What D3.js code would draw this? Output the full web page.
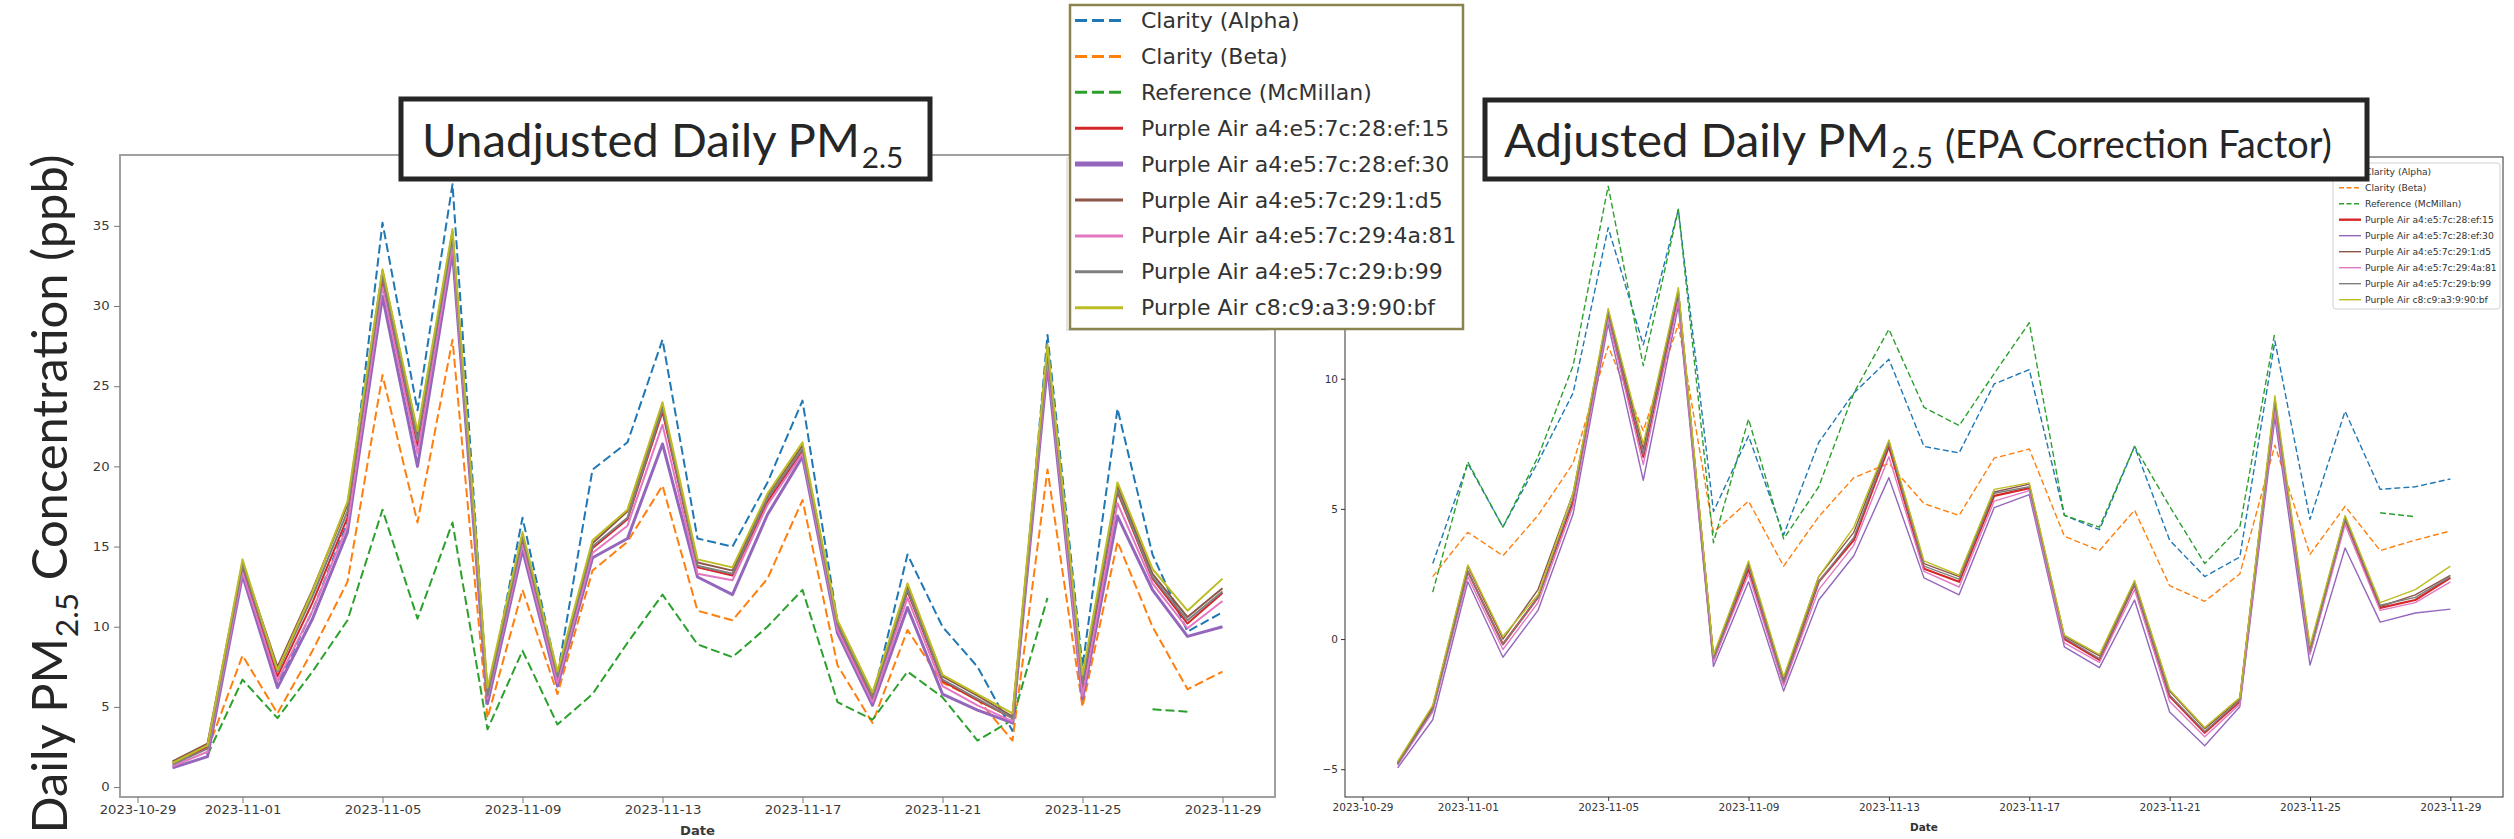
<!DOCTYPE html>
<html>
<head>
<meta charset="utf-8">
<script src="https://cdn.jsdelivr.net/npm/d3@7"></script>
<style>
  body { margin: 0; background: white; }
</style>
</head>
<body>
<main></main>
<script>
// daily values (null = no data that day)
let days = ["2023-10-30","2023-10-31","2023-11-01","2023-11-02","2023-11-03","2023-11-04","2023-11-05",
  "2023-11-06","2023-11-07","2023-11-08","2023-11-09","2023-11-10","2023-11-11","2023-11-12","2023-11-13",
  "2023-11-14","2023-11-15","2023-11-16","2023-11-17","2023-11-18","2023-11-19","2023-11-20","2023-11-21",
  "2023-11-22","2023-11-23","2023-11-24","2023-11-25","2023-11-26","2023-11-27","2023-11-28","2023-11-29"]

let tickLabels = ["2023-10-29","2023-11-01","2023-11-05","2023-11-09","2023-11-13","2023-11-17","2023-11-21","2023-11-25","2023-11-29"]
let yTicksRaw = [0, 5, 10, 15, 20, 25, 30, 35]
let yTicksAdj = [-5, 0, 5, 10, 15]

let names = ["Clarity (Alpha)", "Clarity (Beta)", "Reference (McMillan)",
  "Purple Air a4:e5:7c:28:ef:15", "Purple Air a4:e5:7c:28:ef:30", "Purple Air a4:e5:7c:29:1:d5",
  "Purple Air a4:e5:7c:29:4a:81", "Purple Air a4:e5:7c:29:b:99", "Purple Air c8:c9:a3:9:90:bf"]
let colors = ["#1f77b4", "#ff7f0e", "#2ca02c", "#d62728", "#9467bd", "#8c564b", "#e377c2", "#7f7f7f", "#bcbd22"]

// unadjusted
let rawAlpha = [null, 2.0, 13.5, 6.4, 11.0, 16.5, 35.2, 23.5, 37.6, 5.5, 16.8, 7.0, 19.8, 21.5, 27.9, 15.5, 15.0, 19.0, 24.1, 10.3, 5.5, 14.5, 10.0, 7.5, 3.5, 28.2, 7.5, 23.6, 14.5, 9.7, 10.9]
let rawBeta = [null, 2.3, 8.2, 4.6, 8.5, 12.8, 25.7, 16.5, 27.9, 4.3, 12.3, 5.8, 13.5, 15.3, 18.8, 11.0, 10.4, 13.0, 17.9, 7.6, 4.0, 9.8, 6.5, 5.5, 2.9, 19.8, 5.0, 15.3, 10.0, 6.1, 7.2]
let rawRef = [null, 2.0, 6.7, 4.3, 7.2, 10.4, 17.3, 10.5, 16.5, 3.6, 8.5, 3.9, 5.8, 9.0, 12.0, 8.9, 8.1, 10.0, 12.3, 5.3, 4.2, 7.2, 5.6, 2.9, 4.2, 11.8, null, null, 4.85, 4.7, null]
let rawPA15 = [1.5, 2.5, 13.6, 6.9, 11.5, 16.8, 31.6, 21.3, 34.0, 5.7, 15.3, 6.8, 14.9, 16.7, 23.4, 13.7, 13.2, 17.8, 21.0, 10.0, 5.5, 12.2, 6.6, 5.4, 4.3, 27.0, 5.9, 18.4, 13.0, 10.2, 12.1]
let rawPA30 = [1.2, 1.9, 13.2, 6.2, 10.5, 15.9, 30.6, 20.0, 33.4, 5.2, 14.8, 6.3, 14.3, 15.5, 21.4, 13.1, 12.0, 17.0, 20.6, 9.6, 5.1, 11.2, 5.8, 4.8, 4.0, 26.3, 5.5, 16.9, 12.3, 9.4, 10.0]
let rawPAd5 = [1.6, 2.7, 14.0, 7.5, 12.3, 17.6, 32.2, 22.0, 34.6, 6.0, 15.7, 7.0, 15.2, 17.2, 23.8, 14.0, 13.5, 18.2, 21.3, 10.3, 5.8, 12.5, 6.9, 5.7, 4.4, 27.3, 6.2, 18.8, 13.3, 10.6, 12.4]
let rawPA81 = [1.3, 2.2, 13.4, 6.6, 11.0, 16.3, 31.2, 20.8, 33.8, 5.5, 15.1, 6.5, 14.6, 16.3, 22.6, 13.3, 12.9, 17.6, 20.8, 9.8, 5.3, 11.8, 6.3, 5.1, 4.1, 26.7, 5.7, 17.7, 12.7, 9.9, 11.6]
let rawPA99 = [1.4, 2.4, 13.8, 7.2, 11.9, 17.2, 31.8, 21.6, 34.3, 5.7, 15.5, 6.9, 15.0, 16.8, 23.6, 13.8, 13.3, 18.0, 21.1, 10.1, 5.6, 12.3, 6.7, 5.5, 4.3, 27.1, 6.5, 18.5, 13.1, 10.4, 12.2]
let rawPAbf = [1.5, 2.6, 14.2, 7.3, 12.2, 17.8, 32.3, 22.2, 34.8, 6.2, 15.9, 7.2, 15.4, 17.3, 24.0, 14.2, 13.7, 18.3, 21.5, 10.4, 5.9, 12.7, 7.0, 5.8, 4.6, 27.6, 7.0, 19.0, 13.6, 11.0, 13.0]

// adjusted (EPA correction)
let adjAlpha = [null, 2.9, 6.75, 4.3, 6.8, 9.45, 15.8, 11.3, 16.5, 4.9, 7.8, 4.0, 7.55, 9.45, 10.75, 7.4, 7.15, 9.8, 10.35, 4.75, 4.2, 7.4, 3.8, 2.4, 3.15, 11.45, 4.6, 8.75, 5.75, 5.85, 6.15]
let adjBeta = [null, 2.4, 4.1, 3.2, 4.75, 6.75, 11.25, 8.0, 12.1, 4.1, 5.3, 2.8, 4.7, 6.2, 6.75, 5.2, 4.75, 6.95, 7.3, 3.95, 3.4, 4.95, 2.05, 1.45, 2.5, 7.45, 3.25, 5.1, 3.4, 3.8, 4.15]
let adjRef = [null, 1.8, 6.8, 4.3, 7.0, 10.5, 17.4, 10.5, 16.5, 3.7, 8.45, 3.85, 5.85, 9.45, 11.9, 8.9, 8.2, 10.2, 12.15, 4.75, 4.3, 7.4, 5.1, 2.9, 4.3, 11.8, null, null, 4.85, 4.7, null]
let adjPA15 = [-4.8, -2.7, 2.6, -0.2, 1.6, 5.3, 12.4, 7.0, 13.2, -0.8, 2.7, -1.7, 2.2, 3.8, 7.4, 2.7, 2.2, 5.5, 5.8, 0.0, -0.8, 2.1, -2.2, -3.6, -2.4, 9.0, -0.5, 4.6, 1.2, 1.5, 2.35]
let adjPA30 = [-4.95, -3.1, 2.2, -0.7, 1.1, 4.8, 12.1, 6.1, 12.8, -1.05, 2.2, -2.0, 1.5, 3.2, 6.2, 2.35, 1.7, 5.05, 5.55, -0.3, -1.1, 1.5, -2.8, -4.1, -2.6, 8.5, -1.0, 3.5, 0.65, 1.0, 1.15]
let adjPAd5 = [-4.75, -2.6, 2.8, 0.0, 1.9, 5.6, 12.6, 7.3, 13.4, -0.65, 2.9, -1.55, 2.4, 4.1, 7.6, 2.9, 2.4, 5.65, 5.95, 0.1, -0.65, 2.2, -2.0, -3.45, -2.3, 9.2, -0.35, 4.7, 1.25, 1.7, 2.45]
let adjPA81 = [-4.85, -2.8, 2.4, -0.4, 1.4, 5.1, 12.3, 6.7, 13.0, -0.85, 2.5, -1.8, 1.9, 3.6, 7.0, 2.6, 2.0, 5.3, 5.7, -0.15, -0.9, 1.9, -2.4, -3.75, -2.5, 8.8, -0.6, 4.4, 1.1, 1.4, 2.2]
let adjPA99 = [-4.8, -2.7, 2.6, -0.2, 1.6, 5.4, 12.5, 7.1, 13.3, -0.75, 2.8, -1.65, 2.2, 3.9, 7.5, 2.8, 2.3, 5.6, 5.85, 0.05, -0.75, 2.1, -2.15, -3.55, -2.35, 9.1, -0.45, 4.6, 1.3, 1.6, 2.4]
let adjPAbf = [-4.7, -2.55, 2.85, 0.1, 1.7, 5.6, 12.7, 7.5, 13.5, -0.6, 3.0, -1.45, 2.4, 4.3, 7.65, 3.0, 2.45, 5.75, 6.0, 0.15, -0.6, 2.25, -1.95, -3.4, -2.25, 9.35, -0.25, 4.75, 1.4, 1.9, 2.8]

let rawSeries = [rawAlpha, rawBeta, rawRef, rawPA15, rawPA30, rawPAd5, rawPA81, rawPA99, rawPAbf]
let adjSeries = [adjAlpha, adjBeta, adjRef, adjPA15, adjPA30, adjPAd5, adjPA81, adjPA99, adjPAbf]

//set dimensions
const svgWidth = 2514
const svgHeight = 839

let parseDay = d3.timeParse("%Y-%m-%d")
let dates = days.map(parseDay)
let tickDates = tickLabels.map(parseDay)
const dayMs = 864e5

let svg = d3.select("main")
  .append("svg")
  .attr("width", svgWidth)
  .attr("height", svgHeight)
  .style("display", "block")
  .style("background-color", "white")

function drawPanel(p) {
  let xScale = d3.scaleTime()
    .domain([new Date(+dates[0] - 1.5 * dayMs), new Date(+dates[dates.length - 1] + 1.5 * dayMs)])
    .range([p.left, p.right])

  // 5% padding like matplotlib
  let all = p.series.flat().filter(v => v != null)
  let lo = d3.min(all), hi = d3.max(all), pad = (hi - lo) * 0.05
  let yScale = d3.scaleLinear()
    .domain([lo - pad, hi + pad])
    .range([p.bottom, p.top])

  let g = svg.append("g")

  // lines (drawn in legend order so the last ones sit on top)
  p.series.forEach(function (values, i) {
    let line = d3.line()
      .defined(d => d.v != null)
      .x(d => xScale(d.date))
      .y(d => yScale(d.v))
    g.append("path")
      .datum(dates.map((d, j) => ({ date: d, v: values[j] })))
      .attr("d", line)
      .style("fill", "none")
      .style("stroke", colors[i])
      .style("stroke-width", i < 3 ? p.dashWidth : (i == p.thick ? p.thickWidth : p.lineWidth))
      .style("stroke-dasharray", i < 3 ? p.dash : null)
      .style("stroke-linejoin", "round")
  })

  // frame
  g.append("rect")
    .attr("x", p.left)
    .attr("y", p.top)
    .attr("width", p.right - p.left)
    .attr("height", p.bottom - p.top)
    .style("fill", "none")
    .style("stroke", p.spine)
    .style("stroke-width", p.spineWidth)

  let bottomAxis = d3.axisBottom(xScale)
    .tickValues(tickDates)
    .tickFormat(d3.timeFormat("%Y-%m-%d"))
    .tickSize(p.tickSize)
    .tickPadding(p.tickPad)
  let xAxis = g.append("g")
    .attr("transform", `translate(0, ${p.bottom})`)
    .call(bottomAxis)
  xAxis.select(".domain").remove()
  xAxis.selectAll("line").style("stroke", p.tickColor)
  xAxis.selectAll("text")
    .style("fill", p.textColor)
    .style("font-family", "DejaVu Sans")
    .style("font-size", p.fontSize + "px")
    .attr("transform", `scale(${p.stretch},1)`)

  let leftAxis = d3.axisLeft(yScale)
    .tickValues(p.yTicks)
    .tickFormat(d3.format("d"))
    .tickSize(p.tickSize)
    .tickPadding(p.tickPad)
  let yAxis = g.append("g")
    .attr("transform", `translate(${p.left}, 0)`)
    .call(leftAxis)
  yAxis.select(".domain").remove()
  yAxis.selectAll("line").style("stroke", p.tickColor)
  yAxis.selectAll("text")
    .style("fill", p.textColor)
    .style("font-family", "DejaVu Sans")
    .style("font-size", p.fontSize + "px")
    .attr("transform", `scale(${p.stretch},1)`)

  g.append("text")
    .attr("transform", `translate(${(p.left + p.right) / 2}, ${p.dateY}) scale(${p.stretch},1)`)
    .attr("text-anchor", "middle")
    .style("font-family", "DejaVu Sans")
    .style("font-weight", "bold")
    .style("font-size", p.fontSize + "px")
    .style("fill", p.textColor)
    .text("Date")
}

drawPanel({
  left: 120, right: 1275, top: 155, bottom: 797,
  series: rawSeries, yTicks: yTicksRaw,
  dash: "9,4", dashWidth: 2, lineWidth: 2, thick: 4, thickWidth: 3,
  spine: "#a0a0a0", spineWidth: 2, tickSize: 6, tickPad: 3, tickColor: "#777",
  textColor: "#3a3a3a", fontSize: 11.5, stretch: 1.15, dateY: 835
})

// hidden legend frame of the left plot (mostly covered later)
svg.append("rect")
  .attr("x", 1067).attr("y", 158).attr("width", 200).attr("height", 172)
  .style("fill", "white").style("stroke", "#dddddd").style("stroke-width", 1.5)

drawPanel({
  left: 1345, right: 2503, top: 157, bottom: 797,
  series: adjSeries, yTicks: yTicksAdj,
  dash: "6,3", dashWidth: 1.4, lineWidth: 1.4, thick: 3, thickWidth: 2.2,
  spine: "#333", spineWidth: 1, tickSize: 4, tickPad: 3, tickColor: "#333",
  textColor: "#333", fontSize: 10.5, stretch: 1, dateY: 831
})

// small legend of the right plot
let smallLegend = svg.append("g")
smallLegend.append("rect")
  .attr("x", 2333).attr("y", 163).attr("width", 167).attr("height", 146).attr("rx", 3)
  .style("fill", "white").style("stroke", "#d0d0d0").style("stroke-width", 1)
smallLegend.selectAll("line")
  .data(names)
  .enter()
  .append("line")
  .attr("x1", 2339).attr("x2", 2361)
  .attr("y1", (d, i) => 171.7 + i * 16).attr("y2", (d, i) => 171.7 + i * 16)
  .style("stroke", (d, i) => colors[i])
  .style("stroke-width", (d, i) => i == 3 ? 2.4 : 1.4)
  .style("stroke-dasharray", (d, i) => i < 3 ? "5,2.5" : null)
smallLegend.selectAll("text")
  .data(names)
  .enter()
  .append("text")
  .attr("x", 2365)
  .attr("y", (d, i) => 171.7 + i * 16)
  .attr("dominant-baseline", "central")
  .style("font-family", "DejaVu Sans")
  .style("font-size", "9.2px")
  .style("fill", "#333")
  .text(d => d)

// title boxes: main words, subscript and optional note as separate texts, laid out side by side
let probe = svg.append("text").style("font-family", "Lato").style("font-size", "100px").text("Unadjusted Daily PM")
let titleSize = 100 * 438 / probe.node().getComputedTextLength()   // "Unadjusted Daily PM" is 438px wide in the picture
probe.remove()

function titleBox(x, y, w, h, textX, main, note) {
  let g = svg.append("g")
  g.append("rect")
    .attr("x", x).attr("y", y).attr("width", w).attr("height", h)
    .style("fill", "white").style("stroke", "#262626").style("stroke-width", 5)
  let t = g.append("text")
    .attr("x", textX).attr("y", 157)
    .style("font-family", "Lato").style("font-size", titleSize + "px").style("fill", "#262626")
    .text(main)
  let subX = textX + t.node().getComputedTextLength() + 2
  let s = g.append("text")
    .attr("x", subX).attr("y", 168)
    .style("font-family", "Lato").style("font-size", (titleSize * 0.63) + "px").style("fill", "#262626")
    .text("2.5")
  if (note) {
    g.append("text")
      .attr("x", subX + s.node().getComputedTextLength() + 12).attr("y", 158)
      .style("font-family", "Lato").style("font-size", (titleSize * 0.8) + "px").style("fill", "#262626")
      .text(note)
  }
}

titleBox(401, 99, 529, 80, 422, "Unadjusted Daily PM")
titleBox(1485, 100, 882, 79, 1504, "Adjusted Daily PM", "(EPA Correction Factor)")

// big legend in the middle
let legend = svg.append("g")
legend.append("rect")
  .attr("x", 1070).attr("y", 5).attr("width", 393).attr("height", 324)
  .style("fill", "white").style("stroke", "#8c8450").style("stroke-width", 2.5)
legend.selectAll("line")
  .data(names)
  .enter()
  .append("line")
  .attr("x1", 1075).attr("x2", 1123)
  .attr("y1", (d, i) => 20.5 + i * 35.9).attr("y2", (d, i) => 20.5 + i * 35.9)
  .style("stroke", (d, i) => colors[i])
  .style("stroke-width", (d, i) => i == 4 ? 5 : 3)
  .style("stroke-dasharray", (d, i) => i < 3 ? "12,5" : null)
legend.selectAll("text")
  .data(names)
  .enter()
  .append("text")
  .attr("x", 1141)
  .attr("y", (d, i) => 20.5 + i * 35.9)
  .attr("dominant-baseline", "central")
  .style("font-family", "DejaVu Sans")
  .style("font-size", "22px")
  .style("fill", "#333")
  .text(d => d)

// y axis label, sized so it runs from y=833 up to y=155
let yLabel = svg.append("text")
  .attr("transform", "translate(67, 494) rotate(-90)")
  .attr("text-anchor", "middle")
  .style("font-family", "Lato")
  .style("font-size", "46px")
  .style("fill", "#262626")
yLabel.append("tspan").text("Daily PM")
yLabel.append("tspan").attr("dx", 1).attr("dy", 11).style("font-size", "0.65em").text("2.5")
yLabel.append("tspan").attr("dy", -11).text(" Concentration (ppb)")
let labelLen = yLabel.node().getComputedTextLength()
yLabel.style("font-size", (46 * 678 / labelLen) + "px")
</script>
</body>
</html>
